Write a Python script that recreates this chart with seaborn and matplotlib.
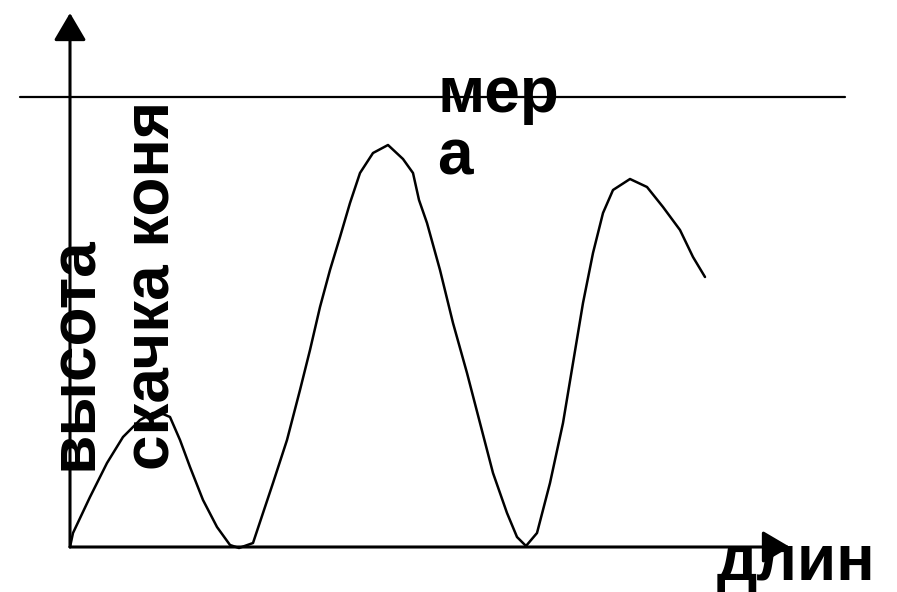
import matplotlib
matplotlib.use("Agg")
import matplotlib.pyplot as plt
import seaborn as sns
import pandas as pd

# Curve (length vs. jump height)
length = [0, 3, 20, 37, 53, 70, 83, 93, 100, 110, 120, 133, 147, 160, 169, 183, 193, 203,
          217, 230, 240, 250, 260, 270, 280, 290, 303, 318, 333, 343, 349, 357, 370, 383,
          397, 410, 423, 437, 447, 456, 467, 480, 493, 503, 513, 523, 533, 543, 560, 577,
          593, 610, 623, 635]
height = [0, 14, 50, 84, 110, 127, 134, 133, 130, 107, 80, 47, 20, 2, -1, 4, 34, 64,
          107, 157, 197, 240, 277, 310, 344, 374, 394, 402, 388, 374, 347, 324, 277, 224,
          174, 124, 74, 34, 10, 1, 14, 64, 124, 184, 244, 294, 334, 357, 368, 360,
          340, 317, 290, 270]
measure_level = 450
y_label_1 = "высота"
y_label_2 = "скачка коня"
x_label = "длин"
measure_label = "мер\nа"

df = pd.DataFrame({"x": length, "y": height})

sns.set_style("white")
plt.rcParams["font.family"] = ["Liberation Sans", "DejaVu Sans"]
plt.rcParams["text.color"] = "black"

fig = plt.figure(figsize=(8.97, 5.92), dpi=100)
ax = fig.add_axes([0, 0, 1, 1])
ax.set_xlim(-70, 827)
ax.set_ylim(-45, 547)
ax.axis("off")

sns.lineplot(data=df, x="x", y="y", ax=ax, color="black", lw=1.8, sort=False)

# axes with arrows
arrow = dict(arrowstyle="-|>,head_length=17,head_width=10", mutation_scale=1,
             color="black", lw=2.2, shrinkA=0, shrinkB=0)
ax.annotate("", xy=(0, 534), xytext=(0, 0), arrowprops=arrow)
ax.annotate("", xy=(720, 0), xytext=(0, 0), arrowprops=arrow)

# measure line
ax.plot([-50, 775], [measure_level, measure_level], color="black", lw=1.6)

fs = 46
ax.text(5, 77, y_label_1, rotation=90, ha="center", va="bottom", fontsize=fs,
        fontweight="bold", color="black")
ax.text(83, 77, y_label_2, rotation=90, ha="center", va="bottom", fontsize=fs,
        fontweight="bold", color="black")
ax.text(367, 482, measure_label, ha="left", va="top", fontsize=fs, fontweight="bold",
        linespacing=1.05, color="black")
ax.text(647, -32, x_label, ha="left", va="baseline", fontsize=fs, fontweight="bold",
        color="black")

fig.savefig("out.png", dpi=100)
